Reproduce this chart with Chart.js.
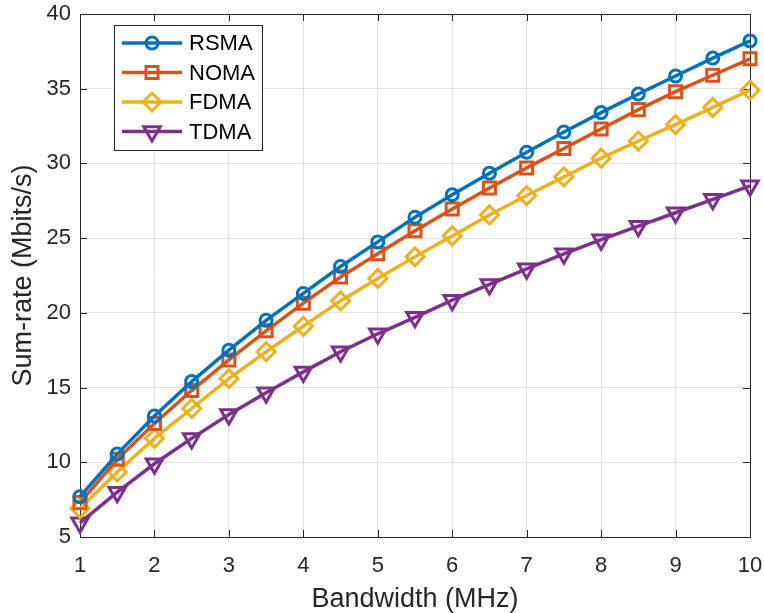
<!DOCTYPE html>
<html>
<head>
<meta charset="utf-8">
<script src="https://cdn.jsdelivr.net/npm/chart.js@4"></script>
<style>
  html, body { margin: 0; padding: 0; background: #fff; }
  #wrap { width: 764px; height: 613px; }
</style>
</head>
<body>
<div id="wrap"><canvas id="rateChart" width="764" height="613"></canvas></div>
<script>
// bandwidth (MHz)
const bandwidth = [1, 1.5, 2, 2.5, 3, 3.5, 4, 4.5, 5, 5.5, 6, 6.5, 7, 7.5, 8, 8.5, 9, 9.5, 10];

// sum-rate (Mbits/s)
const rsma = [7.7, 10.55, 13.1, 15.4, 17.5, 19.5, 21.3, 23.1, 24.75, 26.4, 27.9, 29.35, 30.75, 32.1, 33.4, 34.65, 35.85, 37.05, 38.2];
const noma = [7.3, 10.2, 12.6, 14.8, 16.85, 18.8, 20.65, 22.4, 23.95, 25.5, 26.95, 28.35, 29.7, 31.0, 32.3, 33.6, 34.8, 35.9, 37.0];
const fdma = [6.9, 9.35, 11.6, 13.6, 15.6, 17.4, 19.1, 20.8, 22.3, 23.75, 25.15, 26.55, 27.85, 29.1, 30.35, 31.5, 32.6, 33.75, 34.9];
const tdma = [5.95, 8.0, 9.9, 11.6, 13.2, 14.65, 16.05, 17.4, 18.6, 19.7, 20.85, 21.9, 22.95, 23.95, 24.9, 25.8, 26.7, 27.6, 28.5];

const xTicks = [1, 2, 3, 4, 5, 6, 7, 8, 9, 10];
const yTicks = [5, 10, 15, 20, 25, 30, 35, 40];

const fontFamily = '"Liberation Sans", Arial, Helvetica, sans-serif';
const axisColor = '#262626';

function pts(vals) {
  return vals.map(function (v, i) { return { x: bandwidth[i], y: v }; });
}

function series(label, vals, color, style, radius, rotation) {
  return {
    label: label,
    data: pts(vals),
    borderColor: color,
    backgroundColor: color,
    borderWidth: 3.5,
    pointStyle: style,
    pointRadius: radius,
    pointRotation: rotation || 0,
    pointBorderColor: color,
    pointBackgroundColor: 'rgba(0,0,0,0)',
    pointBorderWidth: 3,
    tension: 0,
    fill: false,
    clip: false
  };
}

// box around plot + inward ticks
const boxPlugin = {
  id: 'box',
  beforeDatasetsDraw(chart) {
    const ctx = chart.ctx, a = chart.chartArea;
    const xs = chart.scales.x, ys = chart.scales.y;
    ctx.save();
    ctx.strokeStyle = axisColor;
    ctx.lineWidth = 1;
    ctx.strokeRect(Math.round(a.left) + 0.5, Math.round(a.top) + 0.5,
      Math.round(a.right - a.left), Math.round(a.bottom - a.top));
    ctx.beginPath();
    xTicks.forEach(function (t) {
      const px = Math.round(xs.getPixelForValue(t)) + 0.5;
      ctx.moveTo(px, a.bottom); ctx.lineTo(px, a.bottom - 7);
      ctx.moveTo(px, a.top); ctx.lineTo(px, a.top + 7);
    });
    yTicks.forEach(function (t) {
      const py = Math.round(ys.getPixelForValue(t)) + 0.5;
      ctx.moveTo(a.left, py); ctx.lineTo(a.left + 7, py);
      ctx.moveTo(a.right, py); ctx.lineTo(a.right - 7, py);
    });
    ctx.stroke();
    ctx.restore();
  }
};

// legend box inside the plot, MATLAB style
const legendPlugin = {
  id: 'innerLegend',
  afterDraw(chart) {
    const ctx = chart.ctx;
    const bx = 114, by = 25, bw = 148, bh = 125;
    ctx.save();
    ctx.fillStyle = '#fff';
    ctx.fillRect(bx, by, bw, bh);
    ctx.strokeStyle = axisColor;
    ctx.lineWidth = 1;
    ctx.strokeRect(bx + 0.5, by + 0.5, bw, bh);
    ctx.font = '22px ' + fontFamily;
    ctx.textBaseline = 'middle';
    chart.data.datasets.forEach(function (ds, i) {
      const y = 43 + i * 29.5;
      ctx.strokeStyle = ds.borderColor;
      ctx.lineWidth = ds.borderWidth;
      ctx.beginPath();
      ctx.moveTo(122, y); ctx.lineTo(182, y);
      ctx.stroke();
      ctx.lineWidth = ds.pointBorderWidth;
      ctx.fillStyle = 'rgba(0,0,0,0)';
      Chart.helpers.drawPoint(ctx, {
        pointStyle: ds.pointStyle,
        radius: ds.pointRadius,
        rotation: ds.pointRotation,
        borderWidth: ds.pointBorderWidth
      }, 152, y);
      ctx.fillStyle = '#000';
      ctx.fillText(ds.label, 189, y + 1);
    });
    ctx.restore();
  }
};

const ctx = document.getElementById('rateChart').getContext('2d');
const chart = new Chart(ctx, {
  type: 'line',
  data: {
    datasets: [
      series('RSMA', rsma, '#0072BD', 'circle', 6),
      series('NOMA', noma, '#D95319', 'rect', 8.5),
      series('FDMA', fdma, '#EDB120', 'rectRot', 9),
      series('TDMA', tdma, '#7E2F8E', 'triangle', 9.5, 180)
    ]
  },
  options: {
    responsive: false,
    animation: false,
    layout: { padding: { left: 0, right: 14, top: 14, bottom: 0 } },
    plugins: {
      legend: { display: false },
      tooltip: { enabled: false }
    },
    scales: {
      x: {
        type: 'linear',
        min: 1,
        max: 10,
        afterBuildTicks(s) { s.ticks = xTicks.map(function (v) { return { value: v }; }); },
        afterFit(s) { s.height = 76; s.paddingLeft = 0; s.paddingRight = 0; },
        grid: { color: '#e3e3e3', lineWidth: 1, drawTicks: false },
        border: { display: false },
        ticks: {
          color: axisColor,
          padding: 16,
          maxRotation: 0,
          font: { family: fontFamily, size: 22 }
        },
        title: {
          display: true,
          text: 'Bandwidth (MHz)',
          color: axisColor,
          padding: { top: 0, bottom: -3 },
          font: { family: fontFamily, size: 27 }
        }
      },
      y: {
        min: 5,
        max: 40,
        afterBuildTicks(s) { s.ticks = yTicks.map(function (v) { return { value: v }; }); },
        afterFit(s) { s.width = 80; s.paddingTop = 0; s.paddingBottom = 0; },
        grid: { color: '#e3e3e3', lineWidth: 1, drawTicks: false },
        border: { display: false },
        ticks: {
          color: axisColor,
          padding: 9,
          font: { family: fontFamily, size: 22 }
        },
        title: {
          display: true,
          text: 'Sum-rate (Mbits/s)',
          color: axisColor,
          padding: { top: 7, bottom: 5 },
          font: { family: fontFamily, size: 27 }
        }
      }
    }
  },
  plugins: [boxPlugin, legendPlugin]
});
</script>
</body>
</html>
